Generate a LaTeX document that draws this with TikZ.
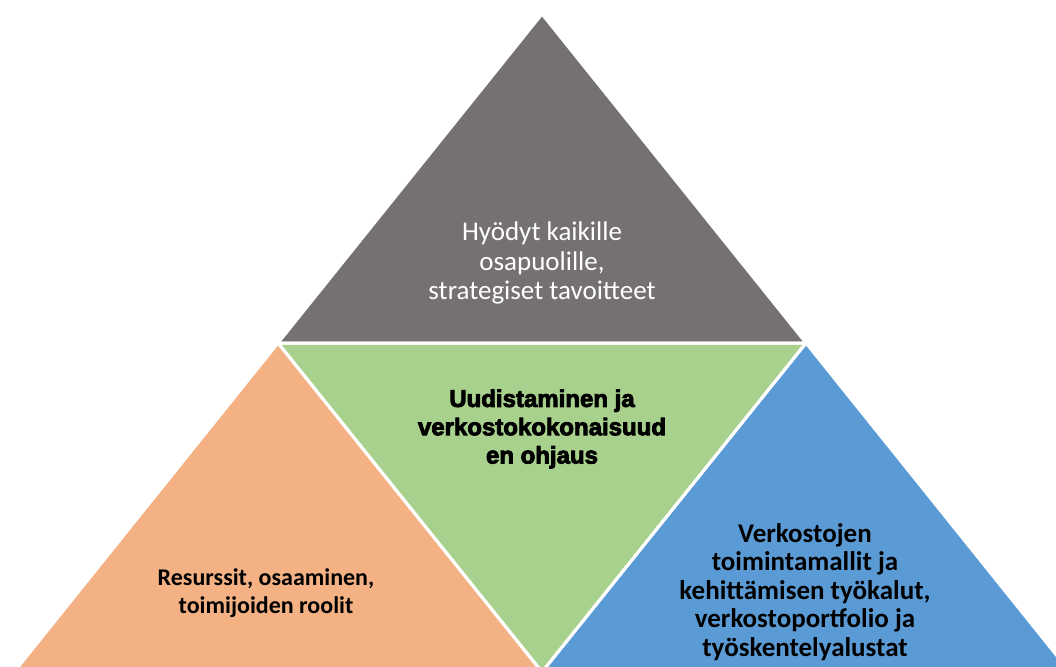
\documentclass[tikz,border=0pt]{standalone}
\usepackage{fontspec}
\setmainfont{Carlito}
\newfontfamily\heavyfont[FakeBold=3.5]{Liberation Sans}
\definecolor{topgray}{HTML}{757171}
\definecolor{leftorange}{HTML}{F4B183}
\definecolor{midgreen}{HTML}{A9D18E}
\definecolor{rightblue}{HTML}{5B9BD5}
\begin{document}
\begin{tikzpicture}[x=1pt,y=-1pt,
  facet/.style={draw=white,line width=3pt,line join=round},
  label/.style={align=center,inner sep=0pt},
  plainlabel/.style={label,text=white,font={\fontsize{27}{29.5}\selectfont}},
  boldlabel/.style={label,text=black,font={\fontsize{24}{28.3}\selectfont\bfseries}},
  bigboldlabel/.style={label,text=black,font={\fontsize{27}{28.6}\selectfont\bfseries}},
  heavylabel/.style={label,text=black,font={\fontsize{24}{28.3}\selectfont\heavyfont\bfseries}}]
\useasboundingbox (0,0) rectangle (1056,666);
\clip (0,0) rectangle (1056,666);
% corners of the large triangle and the midpoints of its sides
\coordinate (apex) at (542,14);
\coordinate (bl) at (14,672);
\coordinate (br) at (1070,672);
\coordinate (ml) at (278,343);
\coordinate (mr) at (806,343);
\coordinate (mb) at (542,672);
% four facets
\fill[topgray] (apex) -- (ml) -- (mr) -- cycle;
\fill[leftorange] (ml) -- (bl) -- (mb) -- cycle;
\fill[midgreen] (ml) -- (mr) -- (mb) -- cycle;
\fill[rightblue] (mr) -- (mb) -- (br) -- cycle;
\draw[facet] (apex) -- (ml) -- (mr) -- cycle;
\draw[facet] (ml) -- (bl) -- (mb) -- cycle;
\draw[facet] (ml) -- (mr) -- (mb) -- cycle;
\draw[facet] (mr) -- (mb) -- (br) -- cycle;
% texts
\node[plainlabel] (goals) at (542,263) {Hyödyt kaikille\\osapuolille,\\strategiset tavoitteet};
\node[heavylabel] (steer) at (542,429) {Uudistaminen ja\\verkostokokonaisuud\\en ohjaus};
\node[boldlabel] (res) at (266,593) {Resurssit, osaaminen,\\toimijoiden roolit};
\node[bigboldlabel] (tools) at (805,592) {Verkostojen\\toimintamallit ja\\kehittämisen työkalut,\\verkostoportfolio ja\\työskentelyalustat};
\end{tikzpicture}
\end{document}
